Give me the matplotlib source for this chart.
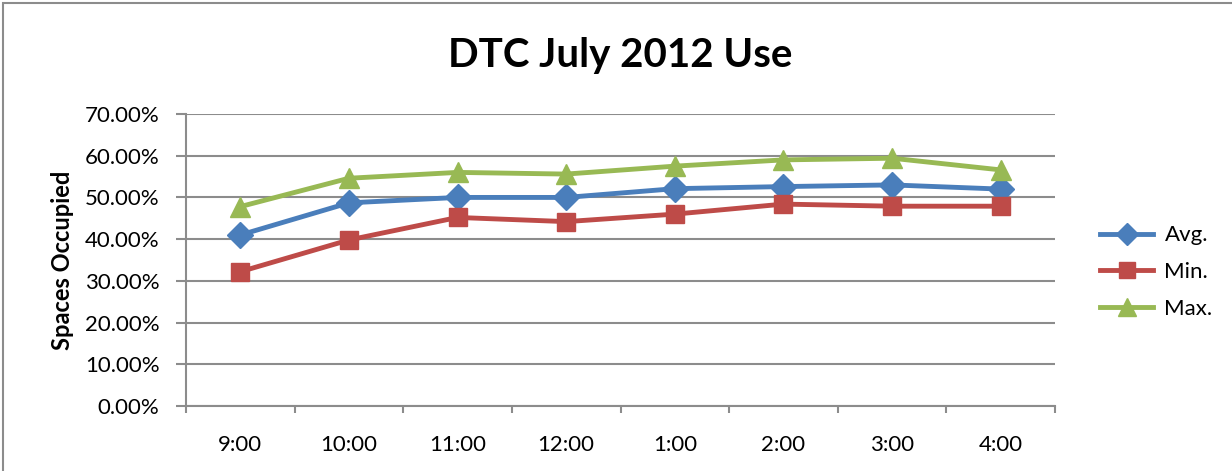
import matplotlib.pyplot as plt
import numpy as np
from matplotlib.patches import Rectangle
from matplotlib.ticker import FuncFormatter

plt.rcParams['font.family'] = ['Lato', 'DejaVu Sans']

times = ['9:00', '10:00', '11:00', '12:00', '1:00', '2:00', '3:00', '4:00']
avg = [41.0, 48.7, 50.0, 50.0, 52.1, 52.6, 53.0, 52.0]
mins = [32.2, 39.8, 45.2, 44.2, 46.0, 48.4, 47.9, 47.9]
maxs = [47.8, 54.6, 56.0, 55.6, 57.5, 59.0, 59.4, 56.6]

fig = plt.figure(figsize=(12.32, 4.71), dpi=100)
ax = fig.add_axes([186/1232, 1 - 406/471, 869/1232, 292/471])

# outer chart frame
fig.patches.append(Rectangle((3/1232, -0.1), 1.2, 1 - 3/471 + 0.1, transform=fig.transFigure,
                             fill=False, edgecolor='#8c8c8c', linewidth=1.5))

x = np.arange(len(times))
ax.plot(x, avg, color='#4a7ebb', lw=3.5, marker='D', ms=13, label='Avg.', zorder=3)
ax.plot(x, mins, color='#be4b48', lw=3.5, marker='s', ms=13, label='Min.', zorder=3)
ax.plot(x, maxs, color='#98b954', lw=3.5, marker='^', ms=15, label='Max.', zorder=3)

ax.set_xlim(-0.5, len(times) - 0.5)
ax.set_ylim(0, 70)
ax.set_yticks(np.arange(0, 71, 10))
ax.yaxis.set_major_formatter(FuncFormatter(lambda v, p: '%.2f%%' % v))
ax.grid(axis='y', color='#8c8c8c', lw=1.5)
ax.set_axisbelow(True)

ax.set_xticks(np.arange(-0.5, len(times)), minor=False)
ax.set_xticklabels([])
ax.set_xticks(x, minor=True)
ax.set_xticklabels(times, minor=True)
ax.tick_params(axis='x', which='minor', length=0, pad=21, labelsize=16)
ax.tick_params(axis='x', which='major', length=5, width=1.5, color='#8c8c8c', direction='out')
ax.tick_params(axis='y', length=7, width=1.5, color='#8c8c8c', labelsize=16, pad=12)

for s in ['top', 'right']:
    ax.spines[s].set_visible(False)
for s in ['left', 'bottom']:
    ax.spines[s].set_color('#8c8c8c')
    ax.spines[s].set_linewidth(1.5)

ax.set_ylabel('Spaces Occupied', fontsize=17, fontweight='bold', labelpad=8)
fig.text(620/1232, 1 - 55/471, 'DTC July 2012 Use', fontsize=29, fontweight='bold',
         ha='center', va='center')

fig.legend(loc='center left', bbox_to_anchor=(1080/1232, 1 - 272/471), frameon=False,
           fontsize=16, handlelength=2.4, handletextpad=0.5, labelspacing=0.75, markerscale=0.9)

fig.savefig('out.png', dpi=100)
